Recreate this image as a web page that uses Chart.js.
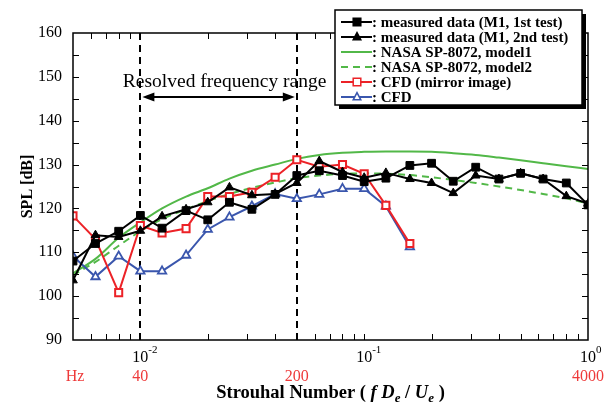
<!DOCTYPE html>
<html>
<head>
<meta charset="utf-8">
<script src="https://cdn.jsdelivr.net/npm/chart.js@4.4.0/dist/chart.umd.min.js"></script>
<style>body{margin:0;background:#fff}</style>
</head>
<body>
<canvas id="myChart" width="607" height="408"></canvas>
<script>
// third-octave band centres, Strouhal number
const strouhal = [0.005, 0.0063, 0.008, 0.01, 0.0125, 0.016, 0.02, 0.025, 0.0315, 0.04, 0.05, 0.063,
                  0.08, 0.1, 0.125, 0.16, 0.2, 0.25, 0.315, 0.4, 0.5, 0.63, 0.8, 1.0]
const measured1 = [108.0, 112.0, 114.8, 118.4, 115.5, 119.5, 117.4, 121.4, 119.8, 123.2, 127.5, 128.6,
                   127.5, 126.1, 126.9, 129.8, 130.3, 126.2, 129.4, 126.7, 128.0, 126.7, 125.8, 120.8]
const measured2 = [103.6, 113.9, 113.5, 114.9, 118.2, 119.8, 121.4, 124.8, 123.0, 123.3, 125.8, 130.8,
                   128.3, 127.0, 128.1, 126.7, 125.8, 123.5, 127.5, 126.7, 128.0, 126.7, 122.8, 121.1]
const model1 = [105.2, 108.5, 113.3, 116.8, 120.0, 122.7, 124.6, 126.8, 128.6, 130.0, 131.3, 132.2,
                132.7, 132.9, 133.0, 133.0, 132.9, 132.6, 132.2, 131.6, 131.0, 130.3, 129.6, 129.0]
const model2 = [104.8, 107.8, 111.5, 114.8, 117.6, 119.8, 121.7, 123.3, 124.7, 125.9, 126.9, 127.5,
                127.9, 128.0, 127.9, 127.6, 127.1, 126.5, 125.8, 125.0, 124.2, 123.3, 122.3, 121.1]
// CFD only up to St = 0.16
const cfdMirror = [118.3, 113.0, 100.8, 116.1, 114.4, 115.4, 122.7, 122.7, 123.7, 127.1, 131.1, 129.5,
                   130.0, 127.9, 120.7, 112.0]
const cfd = [109.1, 104.4, 109.1, 105.7, 105.7, 109.3, 115.2, 118.0, 120.5, 123.3, 122.2, 123.2,
             124.5, 124.5, 120.5, 111.2]

const decadeTicks = [0.01, 0.1, 1]
const decadeExp = ['-2', '-1', '0']
const hzTicks = [0.005, 0.01, 0.05, 1]
const hzLabels = ['Hz', '40', '200', '4000']
const resolvedRange = [0.01, 0.05]

const serif = '"Liberation Serif", "Times New Roman", serif'
const green = '#52b848'

function pts(vals) {
    return vals.map((v, i) => ({x: strouhal[i], y: v}))
}

function marker(ctx, style, x, y, r, fill, stroke) {
    ctx.beginPath()
    if (style === 'rect') {
        ctx.rect(x - r, y - r, 2 * r, 2 * r)
    } else {
        ctx.moveTo(x, y - r * 1.15)
        ctx.lineTo(x + r, y + r * 0.75)
        ctx.lineTo(x - r, y + r * 0.75)
        ctx.closePath()
    }
    ctx.fillStyle = fill
    ctx.fill()
    ctx.lineWidth = 1.5
    ctx.strokeStyle = stroke
    ctx.stroke()
}

const decor = {
    id: 'decor',
    beforeDatasetsDraw(chart) {
        const {ctx, chartArea: a, scales: {x}} = chart
        ctx.save()
        ctx.strokeStyle = '#000'
        ctx.lineWidth = 2
        ctx.setLineDash([7, 5])
        resolvedRange.forEach(v => {
            const px = Math.round(x.getPixelForValue(v))
            ctx.beginPath()
            ctx.moveTo(px, a.top)
            ctx.lineTo(px, a.bottom)
            ctx.stroke()
        })
        ctx.setLineDash([])
        // arrow + label
        const x1 = x.getPixelForValue(resolvedRange[0]) + 2
        const x2 = x.getPixelForValue(resolvedRange[1]) - 2
        const ay = 97
        ctx.lineWidth = 2
        ctx.beginPath()
        ctx.moveTo(x1 + 8, ay)
        ctx.lineTo(x2 - 8, ay)
        ctx.stroke()
        ctx.fillStyle = '#000'
        ctx.beginPath()
        ctx.moveTo(x1, ay); ctx.lineTo(x1 + 12, ay - 4.5); ctx.lineTo(x1 + 12, ay + 4.5); ctx.closePath()
        ctx.fill()
        ctx.beginPath()
        ctx.moveTo(x2, ay); ctx.lineTo(x2 - 12, ay - 4.5); ctx.lineTo(x2 - 12, ay + 4.5); ctx.closePath()
        ctx.fill()
        ctx.font = '19.5px ' + serif
        ctx.textAlign = 'center'
        ctx.textBaseline = 'alphabetic'
        ctx.fillText('Resolved frequency range', (x1 + x2) / 2 + 6, 87)
        ctx.restore()
    },
    afterDraw(chart) {
        const {ctx, chartArea: a, scales: {x, y}} = chart
        ctx.save()
        // frame
        ctx.strokeStyle = '#000'
        ctx.lineWidth = 1.5
        ctx.strokeRect(a.left, a.top, a.width, a.height)
        // inward ticks
        ctx.lineWidth = 1
        ctx.beginPath()
        for (let v = 95; v < 160; v += 5) {
            const py = Math.round(y.getPixelForValue(v)) + 0.5
            ctx.moveTo(a.left, py); ctx.lineTo(a.left + 6, py)
            ctx.moveTo(a.right, py); ctx.lineTo(a.right - 6, py)
        }
        ;[0.001, 0.01, 0.1].forEach(d => {
            for (let m = 1; m <= 9; m++) {
                const v = m * d
                if (v <= 0.005 || v >= 1) continue
                const px = Math.round(x.getPixelForValue(v)) + 0.5
                ctx.moveTo(px, a.bottom); ctx.lineTo(px, a.bottom - 6)
                ctx.moveTo(px, a.top); ctx.lineTo(px, a.top + 6)
            }
        })
        ctx.stroke()

        // x tick labels 10^n
        ctx.fillStyle = '#000'
        ctx.textBaseline = 'alphabetic'
        decadeTicks.forEach((v, i) => {
            const px = x.getPixelForValue(v)
            ctx.font = '16px ' + serif
            ctx.textAlign = 'center'
            ctx.fillText('10', px, 362)
            ctx.font = '11px ' + serif
            ctx.textAlign = 'left'
            ctx.fillText(decadeExp[i], px + 8, 353)
        })
        // frequency labels
        ctx.fillStyle = '#ee3a3a'
        ctx.font = '16px ' + serif
        ctx.textAlign = 'center'
        hzTicks.forEach((v, i) => {
            ctx.fillText(hzLabels[i], x.getPixelForValue(v) + (i === 0 ? 2 : 0), 381)
        })
        // axis title with italic symbols
        const parts = [
            ['bold 18.5px', 'Strouhal Number ( ', 0],
            ['italic bold 18.5px', 'f D', 0],
            ['italic bold 13px', 'e', 4],
            ['bold 18.5px', ' / ', 0],
            ['italic bold 18.5px', 'U', 0],
            ['italic bold 13px', 'e', 4],
            ['bold 18.5px', ' )', 0]
        ]
        let total = 0
        parts.forEach(p => { ctx.font = p[0] + ' ' + serif; total += ctx.measureText(p[1]).width })
        let tx = (a.left + a.right) / 2 - total / 2
        ctx.fillStyle = '#000'
        ctx.textAlign = 'left'
        parts.forEach(p => {
            ctx.font = p[0] + ' ' + serif
            ctx.fillText(p[1], tx, 398 + p[2])
            tx += ctx.measureText(p[1]).width
        })

        // legend box
        const bx = 335, by = 10, bw = 247, bh = 95
        ctx.fillStyle = '#000'
        ctx.fillRect(bx + 4, by + 4, bw, bh)
        ctx.fillStyle = '#fff'
        ctx.fillRect(bx, by, bw, bh)
        ctx.strokeStyle = '#000'
        ctx.lineWidth = 1.5
        ctx.strokeRect(bx, by, bw, bh)
        chart.data.datasets.forEach((ds, i) => {
            const ly = 22 + i * 15
            ctx.strokeStyle = ds.borderColor
            ctx.lineWidth = 2
            ctx.setLineDash(ds.borderDash || [])
            ctx.beginPath()
            ctx.moveTo(341, ly)
            ctx.lineTo(372, ly)
            ctx.stroke()
            ctx.setLineDash([])
            if (ds.pointRadius > 0) {
                marker(ctx, ds.pointStyle, 357, ly, 3.8, ds.pointBackgroundColor, ds.borderColor)
            }
            ctx.fillStyle = '#000'
            ctx.font = 'bold 15px ' + serif
            ctx.textAlign = 'left'
            ctx.textBaseline = 'middle'
            ctx.fillText(': ' + ds.label, 372, ly + 1)
        })
        ctx.restore()
    }
}

const ctx = document.getElementById('myChart').getContext('2d')
const myChart = new Chart(ctx, {
    type: 'line',
    data: {
        datasets: [{
            label: 'measured data (M1, 1st test)',
            data: pts(measured1),
            borderColor: '#000', pointBackgroundColor: '#000', pointBorderColor: '#000',
            borderWidth: 2, pointStyle: 'rect', pointRadius: 5.5, pointBorderWidth: 1, order: 1
        }, {
            label: 'measured data (M1, 2nd test)',
            data: pts(measured2),
            borderColor: '#000', pointBackgroundColor: '#000', pointBorderColor: '#000',
            borderWidth: 2, pointStyle: 'triangle', pointRadius: 5, pointBorderWidth: 1, order: 2
        }, {
            label: 'NASA SP-8072, model1',
            data: pts(model1),
            borderColor: green, borderWidth: 2, pointRadius: 0,
            cubicInterpolationMode: 'monotone', order: 6
        }, {
            label: 'NASA SP-8072, model2',
            data: pts(model2),
            borderColor: green, borderWidth: 2, borderDash: [7, 5], pointRadius: 0,
            cubicInterpolationMode: 'monotone', order: 5
        }, {
            label: 'CFD (mirror image)',
            data: pts(cfdMirror),
            borderColor: '#ec2227', pointBackgroundColor: '#fff', pointBorderColor: '#ec2227',
            borderWidth: 2, pointStyle: 'rect', pointRadius: 5, pointBorderWidth: 2, order: 3
        }, {
            label: 'CFD',
            data: pts(cfd),
            borderColor: '#3a56ad', pointBackgroundColor: '#fff', pointBorderColor: '#3a56ad',
            borderWidth: 2, pointStyle: 'triangle', pointRadius: 4.8, pointBorderWidth: 1.8, order: 4
        }]
    },
    options: {
        responsive: false,
        animation: false,
        devicePixelRatio: 1,
        layout: {padding: {top: 33, right: 19, bottom: 68, left: 0}},
        plugins: {legend: {display: false}, tooltip: {enabled: false}},
        elements: {line: {tension: 0}},
        scales: {
            x: {
                type: 'logarithmic',
                min: 0.005, max: 1,
                display: false
            },
            y: {
                min: 90, max: 160,
                ticks: {stepSize: 10, color: '#000', font: {family: serif, size: 16}, padding: 11},
                grid: {display: false, drawTicks: false},
                border: {display: false},
                title: {
                    display: true, text: 'SPL [dB]', color: '#000',
                    font: {family: serif, size: 16, weight: 'bold'},
                    padding: {top: 18, bottom: 0}
                },
                afterFit(scale) { scale.width = 73 }
            }
        }
    },
    plugins: [decor]
})
</script>
</body>
</html>
